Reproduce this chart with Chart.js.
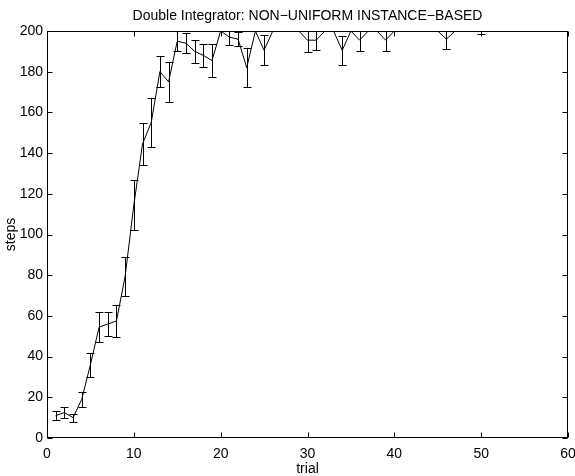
<!DOCTYPE html>
<html>
<head>
<meta charset="utf-8">
<script src="https://cdn.jsdelivr.net/npm/chart.js@4.4.1/dist/chart.umd.min.js"></script>
<style>
  html, body { margin: 0; padding: 0; background: #fff; }
</style>
</head>
<body>
<canvas id="plot" width="575" height="476"></canvas>
<script>
// mean steps per trial with symmetric error (half-length of each bar)
const trials = [
  1, 2, 3, 4, 5, 6, 7, 8, 9, 10,
  11, 12, 13, 14, 15, 16, 17, 18, 19, 20,
  21, 22, 23, 24, 25, 26, 27, 28, 29, 30,
  31, 32, 33, 34, 35, 36, 37, 38, 39, 40,
  41, 42, 43, 44, 45, 46, 47, 48, 49, 50
];
const meanSteps = [
  11, 12.5, 10, 19, 36, 54.5, 56, 57.5, 79.5, 114.5,
  144.5, 155, 180, 175, 195, 194, 190, 188, 185.5, 200,
  197, 196, 182, 200, 190.5, 200, 200, 200, 200, 195.5,
  195.5, 200, 200, 190.5, 200, 195.5, 200, 200, 195.5, 200,
  200, 200, 200, 200, 200, 196, 200, 200, 200, 200
];
const stepErr = [
  2.3, 2.5, 2, 3.8, 6, 7.5, 6, 8, 9.5, 12.5,
  10.3, 12, 7.5, 10, 5, 5, 5.7, 5.8, 8.2, 0,
  4, 3.5, 9.5, 0, 7.4, 0, 0, 0, 0, 6,
  5, 0, 0, 7.2, 0, 5.4, 0, 0, 5.4, 0,
  0, 0, 0, 0, 0, 5, 0, 0, 0, 1.5
];
const xTicks = [0, 10, 20, 30, 40, 50, 60];
const yTicks = [0, 20, 40, 60, 80, 100, 120, 140, 160, 180, 200];
const plotTitle = 'Double Integrator: NON\u2212UNIFORM INSTANCE\u2212BASED';

const FONT = "'Liberation Sans', Arial, Helvetica, sans-serif";
const FSIZE = 14;

// vertical bars with caps, clipped to the plot box
const errorBars = {
  id: 'errorBars',
  afterDatasetsDraw(chart) {
    const { ctx, chartArea: a, scales: { x, y } } = chart;
    ctx.save();
    ctx.beginPath();
    ctx.rect(a.left, a.top, a.right - a.left, a.bottom - a.top);
    ctx.clip();
    ctx.strokeStyle = '#000';
    ctx.lineWidth = 1;
    trials.forEach((t, i) => {
      const e = stepErr[i];
      if (!e) return;
      const px = Math.round(x.getPixelForValue(t)) + 0.5;
      const hi = Math.round(y.getPixelForValue(meanSteps[i] + e)) + 0.5;
      const lo = Math.round(y.getPixelForValue(meanSteps[i] - e)) + 0.5;
      ctx.beginPath();
      ctx.moveTo(px, hi); ctx.lineTo(px, lo);
      ctx.moveTo(px - 4, hi); ctx.lineTo(px + 4, hi);
      ctx.moveTo(px - 4, lo); ctx.lineTo(px + 4, lo);
      ctx.stroke();
    });
    ctx.restore();
  }
};

// closed box with inward tick marks on all four sides, title centred over the box
const boxFrame = {
  id: 'boxFrame',
  afterDraw(chart) {
    const { ctx, chartArea: a, scales: { x, y } } = chart;
    const L = Math.round(a.left) + 0.5, R = Math.round(a.right) - 0.5;
    const T = Math.round(a.top) + 0.5, B = Math.round(a.bottom) - 0.5;
    ctx.save();
    ctx.strokeStyle = '#000';
    ctx.lineWidth = 1;
    ctx.strokeRect(L, T, R - L, B - T);
    ctx.beginPath();
    xTicks.forEach(v => {
      const px = Math.round(x.getPixelForValue(v)) + 0.5;
      ctx.moveTo(px, B); ctx.lineTo(px, B - 5);
      ctx.moveTo(px, T); ctx.lineTo(px, T + 5);
    });
    yTicks.forEach(v => {
      const py = Math.round(y.getPixelForValue(v)) + 0.5;
      ctx.moveTo(L, py); ctx.lineTo(L + 5, py);
      ctx.moveTo(R, py); ctx.lineTo(R - 5, py);
    });
    ctx.stroke();

    ctx.fillStyle = '#000';
    ctx.font = FSIZE + 'px ' + FONT;
    ctx.textAlign = 'center';
    ctx.textBaseline = 'alphabetic';
    ctx.fillText(plotTitle, (a.left + a.right) / 2, 20);
    ctx.restore();
  }
};

new Chart(document.getElementById('plot'), {
  type: 'line',
  data: {
    datasets: [{
      data: trials.map((t, i) => ({ x: t, y: meanSteps[i] })),
      borderColor: '#000',
      borderWidth: 1,
      pointRadius: 0,
      tension: 0,
      fill: false
    }]
  },
  options: {
    responsive: false,
    animation: false,
    layout: { padding: { left: 0, right: 7, top: 31, bottom: 0 } },
    plugins: {
      legend: { display: false },
      tooltip: { enabled: false },
      title: { display: false }
    },
    scales: {
      x: {
        type: 'linear',
        min: 0,
        max: 60,
        afterBuildTicks: s => { s.ticks = xTicks.map(v => ({ value: v })); },
        afterFit: s => { s.height = 38; s.paddingLeft = 0; s.paddingRight = 0; },
        grid: { display: false, drawTicks: false },
        border: { display: false },
        ticks: { color: '#000', padding: 8, maxRotation: 0, font: { family: FONT, size: FSIZE } },
        title: {
          display: true, text: 'trial', color: '#000',
          font: { family: FONT, size: FSIZE, lineHeight: 1.2 },
          padding: { top: 0, bottom: -1.5 }
        }
      },
      y: {
        min: 0,
        max: 200,
        afterBuildTicks: s => { s.ticks = yTicks.map(v => ({ value: v })); },
        afterFit: s => { s.width = 47; s.paddingTop = 0; s.paddingBottom = 0; },
        grid: { display: false, drawTicks: false },
        border: { display: false },
        ticks: { color: '#000', padding: 4, font: { family: FONT, size: FSIZE } },
        title: {
          display: true, text: 'steps', color: '#000',
          font: { family: FONT, size: FSIZE, lineHeight: 1.2 },
          padding: { top: 2.6, bottom: 0 }
        }
      }
    }
  },
  plugins: [errorBars, boxFrame]
});
</script>
</body>
</html>
